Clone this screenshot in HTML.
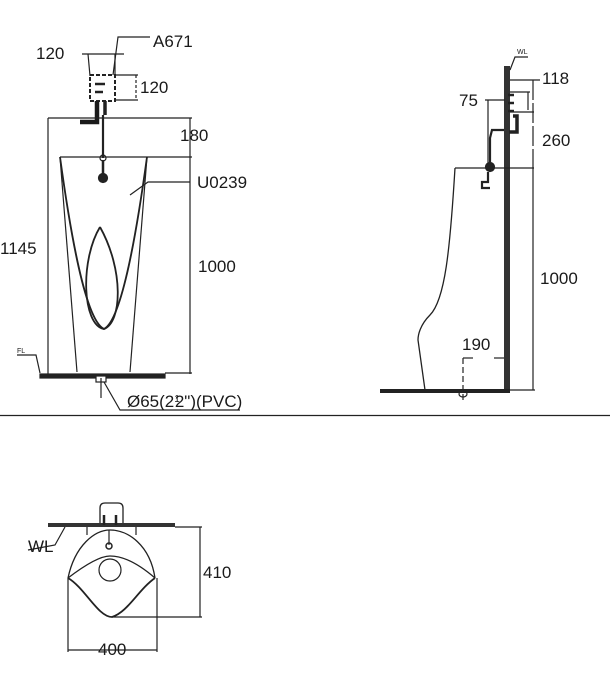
<!DOCTYPE html>
<html><head><meta charset="utf-8"><style>
html,body{margin:0;padding:0;background:#fff;}
svg{display:block;}
text{font-family:"Liberation Sans",sans-serif;fill:#1a1a1a;}
</style></head><body>
<svg width="610" height="687" viewBox="0 0 610 687" xmlns="http://www.w3.org/2000/svg">
<g stroke="#222" stroke-width="1.2" fill="none">
<!-- FRONT VIEW -->
<polyline points="113,75 118,37 150,37"/>
<line x1="82" y1="54" x2="124" y2="54"/>
<line x1="88" y1="54" x2="90" y2="76"/>
<line x1="115" y1="54" x2="115" y2="76"/>
<rect x="90" y="75" width="25" height="26" stroke-width="2" stroke-dasharray="4,2"/>
<path d="M95,84 h10 M95,92 h8" stroke-width="2.5"/>
<line x1="115" y1="75" x2="138" y2="75"/>
<line x1="115" y1="100" x2="138" y2="100"/>
<line x1="136" y1="75" x2="136" y2="100" stroke-dasharray="3,2"/>
<path d="M97,101 V122 H80" stroke-width="4.5" stroke="#1a1a1a"/>
<path d="M105,101 V115" stroke-width="3.5"/>
<line x1="103" y1="115" x2="103" y2="158" stroke-width="2.2"/>
<circle cx="103" cy="158" r="3"/>
<line x1="103" y1="160" x2="103" y2="175" stroke-width="2.5"/>
<circle cx="103" cy="178" r="4.5" fill="#222"/>
<line x1="48" y1="118" x2="192" y2="118"/>
<line x1="48" y1="118" x2="48" y2="375"/>
<line x1="60" y1="157" x2="192" y2="157"/>
<line x1="190" y1="118" x2="190" y2="374"/>
<line x1="165" y1="373" x2="192" y2="373"/>
<line x1="60" y1="157" x2="77" y2="372"/>
<line x1="147" y1="157" x2="130" y2="372"/>
<path d="M60,157 C70,230 85,320 104,329 C122,320 137,230 147,157" stroke-width="1.8"/>
<path d="M100,227 C80,260 82,325 104,329 C122,322 124,270 100,227" stroke-width="1.8"/>
<polyline points="130,195 148,182 190,182"/>
<rect x="40" y="374" width="125" height="4" fill="#222"/>
<rect x="96" y="376" width="10" height="6" fill="#fff"/>
<line x1="101" y1="378" x2="101" y2="398"/>
<polyline points="104,382 120,410 240,410"/>
<polyline points="17,355 36,355 40,373"/>
<line x1="0" y1="415.5" x2="610" y2="415.5" stroke-width="1.3"/>

<!-- SIDE VIEW -->
<rect x="504" y="66" width="6" height="326" fill="#333" stroke="none"/>
<rect x="380" y="389" width="130" height="4" fill="#222" stroke="none"/>
<polyline points="510,70 515,57 528,57"/>
<line x1="510" y1="80" x2="540" y2="80"/>
<line x1="533" y1="80" x2="533" y2="168" stroke-dasharray="20,3"/>
<line x1="510" y1="92" x2="530" y2="92"/>
<line x1="528" y1="92" x2="528" y2="110"/>
<path d="M508,95 h6 M508,103 h6 M508,111 h6" stroke-width="2.5"/>
<path d="M509,132 h8 V116 h-4" stroke-width="3.5"/>
<line x1="510" y1="112" x2="534" y2="112"/>
<line x1="485" y1="100" x2="505" y2="100"/>
<line x1="488" y1="100" x2="488" y2="168"/>
<path d="M504,130 H492 L490,138 V162" stroke-width="2.2"/>
<circle cx="490" cy="167" r="4.5" fill="#222"/>
<path d="M488,172 v10 h-6 v6 h8" stroke-width="2.2"/>
<line x1="455" y1="168" x2="534" y2="168"/>
<line x1="533" y1="168" x2="533" y2="390"/>
<line x1="510" y1="390" x2="535" y2="390"/>
<path d="M455,168 C450,250 445,300 430,315 C420,325 418,335 418,340 L425,390" stroke-width="1.3"/>
<line x1="463" y1="358" x2="473" y2="358"/>
<line x1="494" y1="358" x2="504" y2="358"/>
<line x1="463" y1="358" x2="463" y2="400" stroke-dasharray="6,3"/>
<ellipse cx="463" cy="394" rx="4" ry="3"/>

<!-- TOP VIEW -->
<rect x="48" y="523" width="127" height="4" fill="#333" stroke="none"/>
<path d="M100,523 V508 Q100,503 105,503 H118 Q123,503 123,508 V523" stroke-width="1.3"/>
<path d="M104,515 v10 M116,515 v10" stroke-width="2.5"/>
<line x1="87" y1="527" x2="87" y2="535"/>
<line x1="136" y1="527" x2="136" y2="535"/>
<path d="M68,578 C75,545 95,530 110,530 C128,530 150,545 155,578" stroke-width="1.3"/>
<path d="M68,578 C85,565 100,556 110,556 C125,556 140,565 155,578" stroke-width="1.3"/>
<path d="M68,578 C85,588 98,617 112,617 C128,612 138,590 155,578" stroke-width="1.8"/>
<circle cx="110" cy="570" r="11"/>
<line x1="109" y1="530" x2="109" y2="545"/>
<circle cx="109" cy="546" r="3" stroke-width="1.5"/>
<polyline points="65,527 55,545 28,550"/>
<line x1="175" y1="527" x2="202" y2="527"/>
<line x1="112" y1="617" x2="202" y2="617"/>
<line x1="200" y1="527" x2="200" y2="617"/>
<line x1="68" y1="578" x2="68" y2="652"/>
<line x1="157" y1="578" x2="157" y2="652"/>
<line x1="68" y1="650" x2="157" y2="650"/>
</g>
<g font-size="17">
<text x="153" y="47">A671</text>
<text x="36" y="59">120</text>
<text x="140" y="93">120</text>
<text x="180" y="141">180</text>
<text x="197" y="188">U0239</text>
<text x="0" y="254">1145</text>
<text x="198" y="272">1000</text>
<text x="127" y="407">Ø65(2<tspan font-size="10" dy="-5">1</tspan><tspan dx="-5" dy="5">2</tspan>")(PVC)</text>
<text x="542" y="84">118</text>
<text x="459" y="106">75</text>
<text x="542" y="146">260</text>
<text x="540" y="284">1000</text>
<text x="462" y="350">190</text>
<text x="203" y="578">410</text>
<text x="98" y="655">400</text>
<text x="28" y="552">WL</text>
</g>
<text x="17" y="353" font-size="7">FL</text>
<text x="517" y="54" font-size="7">WL</text>
</svg>
</body></html>
